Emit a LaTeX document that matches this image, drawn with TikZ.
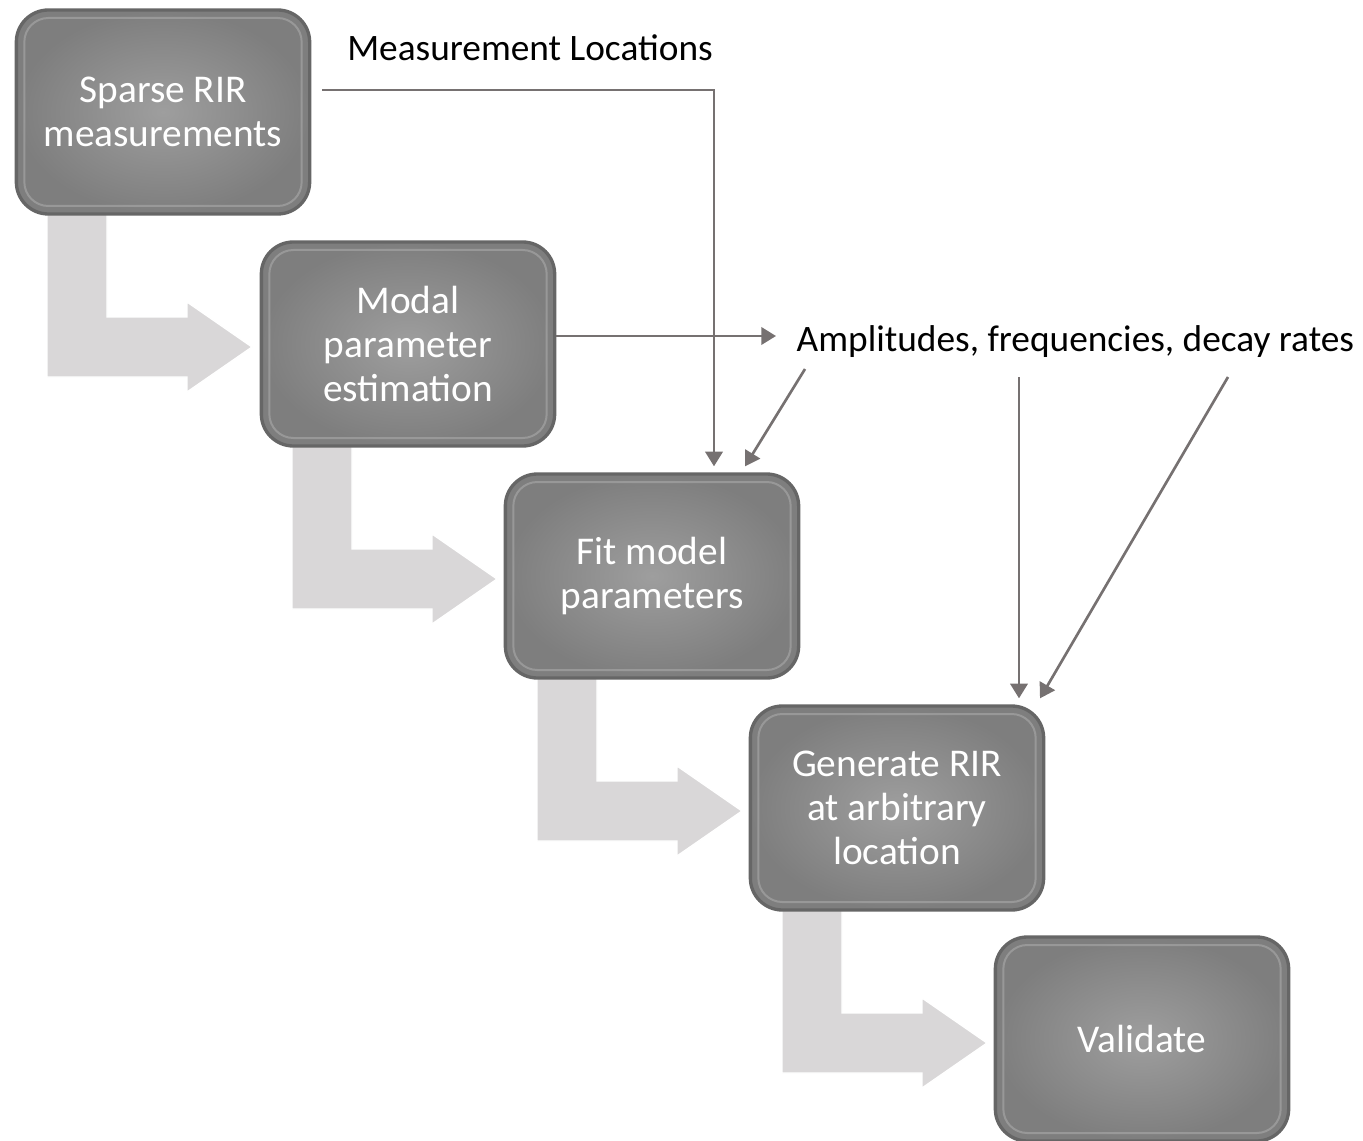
\documentclass[tikz,border=0pt]{standalone}
\usepackage{fontspec}
\setmainfont{Carlito}
\usetikzlibrary{arrows.meta,calc}

\definecolor{boxedge}{HTML}{666666}
\definecolor{boxin}{HTML}{9E9E9E}
\definecolor{boxout}{HTML}{7E7E7E}
\definecolor{bevel}{HTML}{B8B8B8}
\definecolor{lfill}{HTML}{D9D7D8}
\definecolor{conngray}{HTML}{767171}

\tikzset{
  stagebox/.style={rounded corners=24pt, draw=boxedge, line width=2.5pt,
    inner color=boxin, outer color=boxout, text=white, align=center,
    minimum width=220pt, minimum height=153pt,
    font=\fontsize{29.5}{33}\selectfont,
    path picture={
      \draw[bevel, line width=1.5pt, rounded corners=18pt, opacity=0.45]
        ($(path picture bounding box.south west)+(6pt,6pt)$) rectangle
        ($(path picture bounding box.north east)+(-6pt,-6pt)$);
    }},
  lshape/.style={fill=lfill, draw=white, line width=1pt},
  conn/.style={draw=conngray, line width=2pt, -{Triangle[length=11pt,width=13pt]}},
  note/.style={font=\fontsize{28}{33}\selectfont, text=black}
}

\begin{document}
\begin{tikzpicture}[x=0.75pt,y=-0.75pt]
  \useasboundingbox (0,0) rectangle (1363,1141);

  % bent arrows between the stages
  \foreach \i in {0,...,3} {
    \draw[lshape, shift={(245*\i,232*\i)}] (47,205) -- (107,205) -- (107,317)
      -- (187,317) -- (187,302) -- (252,347) -- (187,392) -- (187,377)
      -- (47,377) -- cycle;
  }

  \node[stagebox] (sparse) at (163,112) {Sparse RIR\\measurements};
  \node[stagebox] (modal) at (408,344) {Modal\\parameter\\estimation};
  \node[stagebox] (fit) at (652,576) {Fit model\\parameters};
  \node[stagebox] (gen) at (897,808) {Generate RIR\\at arbitrary\\location};
  \node[stagebox] (valid) at (1142,1039) {Validate};

  \node[note] (loc) at (530,48) {Measurement Locations};
  \node[note, anchor=west] (amp) at (792,342) {Amplitudes, frequencies, decay rates};

  \coordinate (locstart) at (322,90);
  \coordinate (ampa) at (805,369);
  \coordinate (ampb) at (1019,377);
  \coordinate (ampc) at (1228,377);

  \draw[conn] (locstart) -| ($(fit.north)+(62,-6)$);
  \draw[conn] (modal.east |- 0,336) -- ($(amp.west |- 0,336)+(-16,0)$);
  \draw[conn] (ampa) -- ($(fit.north)+(93,-6)$);
  \draw[conn] (ampb) -- ($(gen.north)+(122,-6)$);
  \draw[conn] (ampc) -- ($(gen.north)+(143,-6)$);
\end{tikzpicture}
\end{document}
